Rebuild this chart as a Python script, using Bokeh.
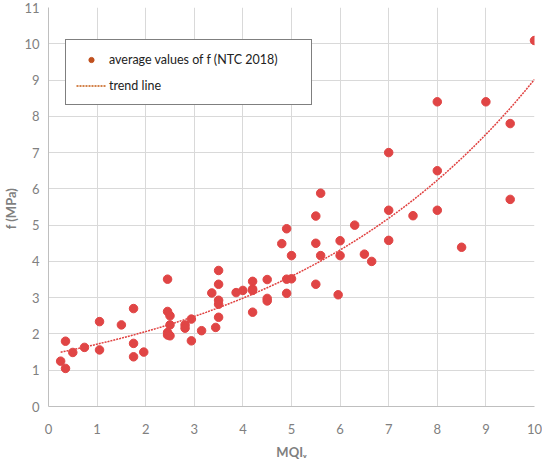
import numpy as np
from bokeh.plotting import figure
from bokeh.models import ColumnDataSource, Legend, LegendItem, FixedTicker, Range1d
from bokeh.embed import file_html
from bokeh.resources import INLINE

# MQIv values and average f (MPa), NTC 2018
mqi = [0.25, 0.35, 0.35, 0.5, 0.74, 1.05, 1.05, 1.5, 1.75, 1.75, 1.75, 1.96,
       2.45, 2.45, 2.5, 2.5, 2.45, 2.45, 2.5, 2.81, 2.81, 2.94, 2.94, 3.15,
       3.36, 3.44, 3.5, 3.5, 3.5, 3.5, 3.5, 3.86, 4.0, 4.2, 4.2, 4.2, 4.2,
       4.5, 4.5, 4.5, 4.8, 4.9, 4.9, 4.9, 5.0, 5.0, 5.5, 5.5, 5.5, 5.6, 5.6,
       5.96, 6.0, 6.0, 6.3, 6.5, 6.65, 7.0, 7.0, 7.0, 7.5, 8.0, 8.0, 8.0,
       8.5, 9.0, 9.5, 9.5, 10.0]
f_mpa = [1.25, 1.05, 1.8, 1.49, 1.63, 2.34, 1.56, 2.25, 2.7, 1.74, 1.37, 1.5,
         3.51, 2.62, 2.5, 2.25, 2.04, 1.97, 1.95, 2.25, 2.16, 2.41, 1.81, 2.09,
         3.13, 2.18, 3.75, 3.37, 2.93, 2.82, 2.46, 3.14, 3.2, 3.45, 3.24, 3.2, 2.6,
         3.5, 2.98, 2.91, 4.49, 4.9, 3.51, 3.12, 3.52, 4.16, 5.25, 4.5, 3.37, 5.88, 4.16,
         3.08, 4.57, 4.16, 5.0, 4.2, 4.0, 7.0, 5.41, 4.58, 5.26, 8.4, 6.5, 5.41,
         4.39, 8.4, 7.8, 5.71, 10.09]
x_ticks = [0, 1, 2, 3, 4, 5, 6, 7, 8, 9, 10]
y_ticks = [0, 1, 2, 3, 4, 5, 6, 7, 8, 9, 10, 11]

# exponential trend line (least squares on ln f), like a spreadsheet trendline
xa = np.array(mqi)
ya = np.array(f_mpa)
b, ln_a = np.polyfit(xa, np.log(ya), 1)
tx = np.linspace(min(mqi), max(mqi), 200)
ty = np.exp(ln_a) * np.exp(b * tx)

p = figure(frame_width=486, frame_height=399, output_backend="svg", toolbar_location=None,
           x_range=Range1d(0, 10), y_range=Range1d(0, 11),
           min_border_left=40, min_border_right=8, min_border_top=7, min_border_bottom=44)
p.outline_line_color = None
p.background_fill_color = "white"
p.border_fill_color = "white"

line_r = p.line(tx, ty, line_color="#E0403F", line_width=1.5, line_dash="2 1")
src = ColumnDataSource(dict(x=mqi, y=f_mpa))
sc_r = p.scatter("x", "y", source=src, size=8.5, fill_color="#E04545", line_color="#E04545")

# legend-only renderers (drawn off-range, only their legend glyph shows)
leg_dot = p.scatter([-50], [-50], size=4.5, fill_color="#C0501E", line_color="#C0501E")
leg_line = p.line([-50, -49], [-50, -50], line_color="#C55A11", line_width=1.5, line_dash="2 1")

legend = Legend(items=[LegendItem(label="average values of f (NTC 2018)", renderers=[leg_dot]),
                       LegendItem(label="trend line", renderers=[leg_line])],
                location=(17, 301))
legend.border_line_color = "black"
legend.border_line_width = 1.5
legend.background_fill_alpha = 1.0
legend.label_text_font = "Lato"
legend.label_text_font_size = "12.5px"
legend.label_text_color = "#222222"
legend.glyph_width = 30
legend.glyph_height = 13
legend.label_height = 18
legend.label_width = 192
legend.spacing = 8
legend.padding = 10
legend.margin = 0
legend.label_standoff = 3
p.add_layout(legend, "center")

for ax in (p.xaxis, p.yaxis):
    ax.axis_line_color = "#BFBFBF"
    ax.major_tick_line_color = None
    ax.minor_tick_line_color = None
    ax.major_tick_out = 0
    ax.major_tick_in = 0
    ax.major_label_text_color = "#808080"
    ax.major_label_text_font = "Lato"
    ax.major_label_text_font_size = "13px"
    ax.axis_label_text_color = "#7F7F7F"
    ax.axis_label_text_font = "Lato"
    ax.axis_label_text_font_size = "13px"
    ax.axis_label_text_font_style = "bold"

p.xaxis.ticker = FixedTicker(ticks=x_ticks)
p.yaxis.ticker = FixedTicker(ticks=y_ticks)
p.xaxis.major_label_standoff = 17
p.yaxis.major_label_standoff = 9
p.xaxis.axis_label = "MQIᵥ"
p.yaxis.axis_label = "f  (MPa)"
p.xaxis.axis_label_standoff = 7
p.yaxis.axis_label_standoff = 2

p.grid.grid_line_color = "#D9D9D9"
p.grid.grid_line_width = 1

open("out.html", "w").write(file_html(p, INLINE))
